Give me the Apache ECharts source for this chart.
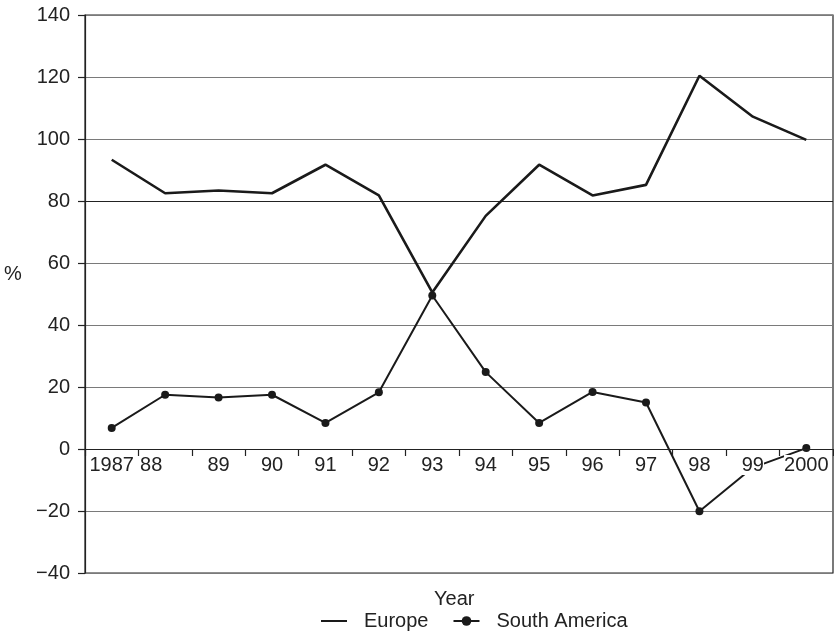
<!DOCTYPE html>
<html>
<head>
<meta charset="utf-8">
<script src="https://cdn.jsdelivr.net/npm/echarts@6/dist/echarts.min.js"></script>
<style>
html,body{margin:0;padding:0;background:#fff;}
#chart{width:834px;height:642px;}
</style>
</head>
<body>
<div id="chart"></div>
<script>
var years = ['1987', '88', '89', '90', '91', '92', '93', '94', '95', '96', '97', '98', '99', '2000'];
var europe = [93.3, 82.5, 83.4, 82.5, 91.7, 81.8, 50.5, 75.2, 91.7, 81.8, 85.2, 120.4, 107.2, 99.7];
var southAmerica = [6.8, 17.5, 16.6, 17.5, 8.4, 18.3, 49.5, 24.8, 8.4, 18.4, 15.0, -20.1, -6.0, 0.3];
var yTicks = { min: -40, max: 140, step: 20 };

var FONT = 'Liberation Sans, Arial, Helvetica, sans-serif';
var TXT = '#222';
var GRID_TOP = 15, GRID_BOTTOM = 69, H = 642;
var plotH = H - GRID_TOP - GRID_BOTTOM;
var zeroOffset = -plotH * (0 - yTicks.min) / (yTicks.max - yTicks.min);

var xData = years.map(function (y, i) {
  if (i === 1) return { value: y, textStyle: { padding: [0, 28, 0, 0] } };
  return y;
});

// split line colours from min (-40) to max (140); the 80 line is drawn darker
var gridColors = [];
for (var v = yTicks.min; v <= yTicks.max; v += yTicks.step) {
  gridColors.push(v === 80 || v === 0 ? '#222' : '#7a7a7a');
}

var chart = echarts.init(document.getElementById('chart'), null, { renderer: 'canvas' });
chart.setOption({
  animation: false,
  backgroundColor: '#fff',
  textStyle: { fontFamily: FONT, color: TXT },
  grid: {
    left: 85, right: 1, top: GRID_TOP, bottom: GRID_BOTTOM,
    show: true, borderColor: '#222', borderWidth: 1.2, backgroundColor: 'transparent'
  },
  xAxis: {
    type: 'category',
    data: xData,
    boundaryGap: true,
    position: 'bottom',
    offset: zeroOffset,
    z: 5,
    axisLine: { onZero: false, lineStyle: { color: '#222', width: 1.2 } },
    axisTick: { show: true, inside: false, length: 7, lineStyle: { color: '#222', width: 1.2 } },
    axisLabel: {
      fontSize: 20, color: TXT, fontFamily: FONT, margin: 6,
      backgroundColor: '#fff', interval: 0
    },
    splitLine: { show: false }
  },
  yAxis: {
    type: 'value',
    min: yTicks.min, max: yTicks.max, interval: yTicks.step,
    axisLine: { show: true, onZero: false, lineStyle: { color: '#222', width: 1.2 } },
    axisTick: { show: true, length: 7, lineStyle: { color: '#222', width: 1.2 } },
    axisLabel: {
      fontSize: 20, color: TXT, fontFamily: FONT, margin: 15,
      formatter: function (v) { return v < 0 ? '\u2212' + Math.abs(v) : String(v); }
    },
    splitLine: { show: true, lineStyle: { color: gridColors, width: 1.2 } }
  },
  legend: {
    bottom: 6,
    left: 316,
    itemWidth: 26, itemHeight: 12, itemGap: 24,
    textStyle: { fontSize: 20, color: TXT, fontFamily: FONT, padding: [0, 0, 0, 12] },
    data: [
      { name: 'Europe', icon: 'path://M0,5 L26,5 L26,7 L0,7 Z' },
      { name: 'South America' }
    ]
  },
  graphic: [
    { type: 'text', left: 4, top: 264, style: { text: '%', fontSize: 20, fill: TXT, fontFamily: FONT } },
    { type: 'text', left: 434, top: 589, style: { text: 'Year', fontSize: 20, fill: TXT, fontFamily: FONT } }
  ],
  series: [
    {
      name: 'Europe', type: 'line', data: europe,
      symbol: 'none', z: 3,
      lineStyle: { color: '#1a1a1a', width: 2.6 },
      itemStyle: { color: '#1a1a1a' }
    },
    {
      name: 'South America', type: 'line', data: southAmerica,
      symbol: 'circle', symbolSize: 8, showSymbol: true, z: 3,
      lineStyle: { color: '#1a1a1a', width: 2 },
      itemStyle: { color: '#1a1a1a' }
    }
  ]
});
</script>
</body>
</html>
